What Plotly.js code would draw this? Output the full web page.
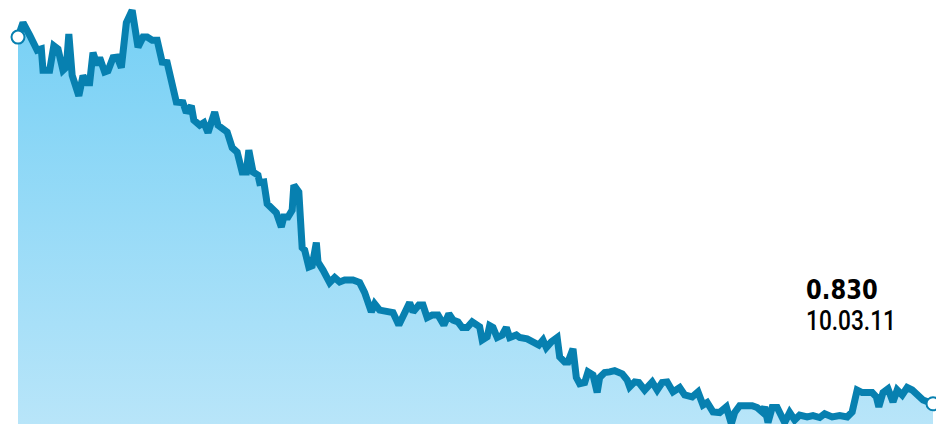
<!DOCTYPE html>
<html>
<head>
<meta charset="utf-8">
<script src="https://cdn.plot.ly/plotly-3.0.1.min.js"></script>
<style>
html,body{margin:0;padding:0;background:#fff;}
#chart{width:936px;height:424px;}
</style>
</head>
<body>
<div id="chart"></div>
<script>
// Days since start of series (ending 10.03.11)
const days = [
0,6,14,23,28,30,38,43,48,54,
58,61,65,68,73,78,83,86,90,95,
98,104,108,114,119,124,130,137,140,144,
150,155,161,167,173,179,190,198,202,208,
211,218,223,228,236,240,251,254,257,263,
269,274,277,282,288,290,295,299,304,310,
316,319,324,329,331,337,341,344,349,353,
358,360,366,371,374,380,386,392,402,410,
416,424,428,434,443,450,457,464,470,474,
481,486,491,497,504,511,517,522,528,533,
539,545,551,554,557,563,566,570,575,581,
586,590,598,602,611,618,625,630,634,640,
647,650,656,660,666,670,674,680,684,690,
695,698,704,710,716,725,731,734,740,745,
752,761,767,773,779,786,794,800,809,816,
822,827,834,842,850,856,860,866,875,881,
887,893,896,900,905,911,917,920,926,932,
938,947,954,962,968,977,986,995,1001,1007,
1013,1019,1025,1030,1033,1038,1044,1050,1055,1061,
1067,1073,1079,1086,1098
];
const values = [
1.417,1.440,1.420,1.396,1.398,1.364,1.364,1.403,1.398,1.364,
1.369,1.422,1.356,1.344,1.323,1.355,1.344,1.344,1.392,1.372,
1.384,1.361,1.363,1.384,1.385,1.368,1.440,1.460,1.424,1.401,
1.417,1.417,1.412,1.412,1.377,1.376,1.313,1.312,1.296,1.307,
1.284,1.276,1.280,1.264,1.297,1.276,1.265,1.252,1.240,1.233,
1.201,1.201,1.236,1.201,1.196,1.184,1.185,1.150,1.145,1.136,
1.113,1.129,1.129,1.140,1.180,1.169,1.080,1.076,1.049,1.051,
1.088,1.057,1.044,1.027,1.024,1.032,1.025,1.028,1.028,1.024,
1.008,0.977,0.990,0.980,0.977,0.976,0.956,0.976,0.992,0.977,
0.988,0.988,0.968,0.972,0.972,0.956,0.974,0.964,0.961,0.952,
0.952,0.961,0.956,0.953,0.932,0.937,0.955,0.952,0.936,0.940,
0.952,0.936,0.940,0.936,0.934,0.929,0.924,0.932,0.920,0.929,
0.936,0.905,0.897,0.897,0.918,0.872,0.862,0.864,0.881,0.876,
0.848,0.872,0.880,0.881,0.883,0.878,0.868,0.857,0.865,0.864,
0.852,0.865,0.852,0.864,0.865,0.849,0.856,0.844,0.841,0.849,
0.828,0.832,0.817,0.816,0.825,0.798,0.816,0.827,0.827,0.827,
0.824,0.817,0.825,0.800,0.824,0.824,0.808,0.800,0.816,0.804,
0.812,0.809,0.811,0.808,0.814,0.809,0.811,0.809,0.817,0.852,
0.848,0.848,0.848,0.841,0.825,0.848,0.854,0.833,0.852,0.844,
0.856,0.852,0.844,0.836,0.830
];
const lastValueLabel = "0.830";
const lastDateLabel = "10.03.11";

const lineColor = '#0780b0';
const n = values.length;

const area = {
  x: days, y: values, type: 'scatter', mode: 'lines',
  line: {color: lineColor, width: 7},
  fill: 'tozeroy',
  fillgradient: {type: 'vertical', start: 0.7976, stop: 1.46,
    colorscale: [[0, '#b8e5f9'], [1, '#76d0f5']]},
  hoverinfo: 'skip'
};
const ends = {
  x: [days[0], days[n-1]], y: [values[0], values[n-1]],
  type: 'scatter', mode: 'markers',
  marker: {size: 13, color: '#ffffff', line: {color: lineColor, width: 2}},
  hoverinfo: 'skip'
};

const labelText =
  '<span style="font-family:\'DejaVu Sans\';font-weight:bold;font-size:27px">' + lastValueLabel + '</span>' +
  '<br><span style="font-family:Roboto;font-weight:500;font-size:27px">' + lastDateLabel + '</span>';

const layout = {
  width: 936, height: 424,
  margin: {l: 0, r: 0, t: 0, b: 0, pad: 0},
  paper_bgcolor: '#ffffff', plot_bgcolor: '#ffffff',
  showlegend: false,
  xaxis: {visible: false, range: [-21.6, 1101.6], fixedrange: true},
  yaxis: {visible: false, range: [0.7976, 1.4764], fixedrange: true},
  annotations: [
    {xref: 'paper', yref: 'paper', x: 805/936, y: 1 - 305/424,
     xanchor: 'left', yanchor: 'middle', align: 'left', showarrow: false, borderpad: 0,
     text: labelText,
     font: {family: 'Liberation Sans, Arial, sans-serif', size: 23.5, color: '#000'}}
  ]
};

Plotly.newPlot('chart', [area, ends], layout, {displayModeBar: false, staticPlot: true}).then(function () {
  // condensed look of the label font
  document.querySelectorAll('#chart .annotation-text').forEach(function (t) {
    t.style.transformBox = 'fill-box';
    t.style.transformOrigin = '0 0';
    t.style.transform = 'scaleX(0.84)';
  });
});
</script>
</body>
</html>
